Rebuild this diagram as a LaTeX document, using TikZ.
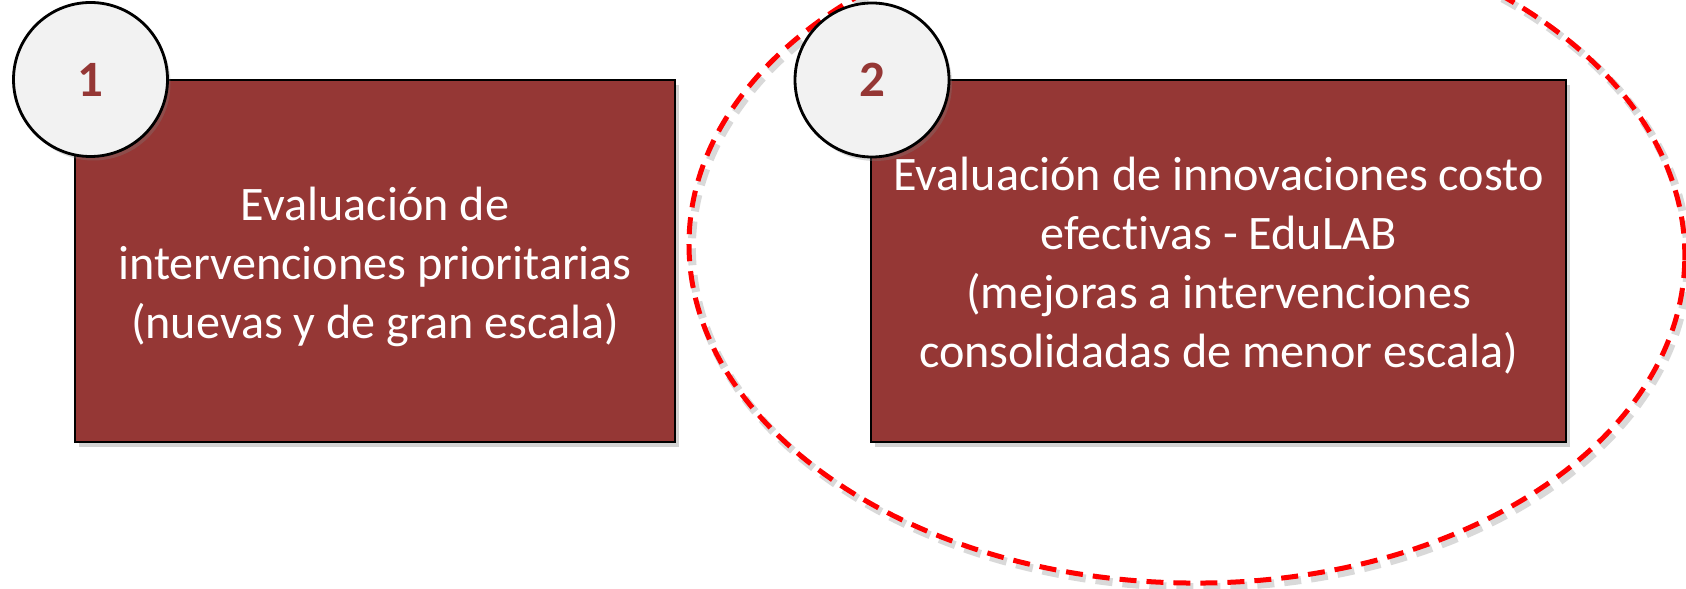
\documentclass[tikz,border=0pt]{standalone}
\usepackage{fontspec}
\setmainfont{Carlito}[Ligatures={NoCommon}]
\usetikzlibrary{shadows}
\definecolor{vino}{RGB}{149,55,53}
\definecolor{claro}{RGB}{242,242,242}
\tikzset{
  caja/.style={draw=black, line width=0.8pt, fill=vino,
    drop shadow={shadow xshift=0.04cm, shadow yshift=-0.05cm, opacity=0.35}},
  texto/.style={text=white, align=center, inner sep=0pt,
    font=\fontsize{13.7}{16.8}\selectfont},
  num/.style={circle, draw=black, line width=0.8pt, fill=claro, minimum size=1.54cm,
    inner sep=0pt, text=vino, font=\fontsize{14.5}{16}\selectfont\bfseries,
    drop shadow={shadow xshift=0.03cm, shadow yshift=-0.04cm, opacity=0.3}},
  anillo/.style={draw=red, line width=0.05cm, dash pattern=on 0.17cm off 0.10cm}
}
\begin{document}
\begin{tikzpicture}
  \useasboundingbox (0,0) rectangle (16.86,-5.89);
  % grupo de la derecha
  \coordinate (ec) at (11.87,-2.50);
  \draw[anillo, draw=black, opacity=0.15, line width=0.08cm, rotate around={-1.2:(ec)}]
    ([xshift=0.03cm, yshift=-0.04cm]ec) ellipse [x radius=4.98cm, y radius=3.33cm];
  \draw[anillo, rotate around={-1.2:(ec)}] (ec) ellipse [x radius=4.98cm, y radius=3.33cm];
  % cajas
  \node (A) [caja, minimum width=6cm, minimum height=3.62cm] at (3.75,-2.61) {};
  \node (B) [caja, minimum width=6.95cm, minimum height=3.62cm] at (12.185,-2.61) {};
  % numeros
  \node (n1) [num] at (0.905,-0.795) {1};
  \node (n2) [num] at (8.72,-0.80) {2};
  % textos
  \node (tA) [texto] at ([yshift=-0.06cm]A.center)
    {Evaluación de\\intervenciones prioritarias\\(nuevas y de gran escala)};
  \node (tB) [texto] at ([yshift=-0.05cm]B.center)
    {Evaluación de innovaciones costo\\efectivas - EduLAB\\(mejoras a intervenciones\\consolidadas de menor escala)};
\end{tikzpicture}
\end{document}
